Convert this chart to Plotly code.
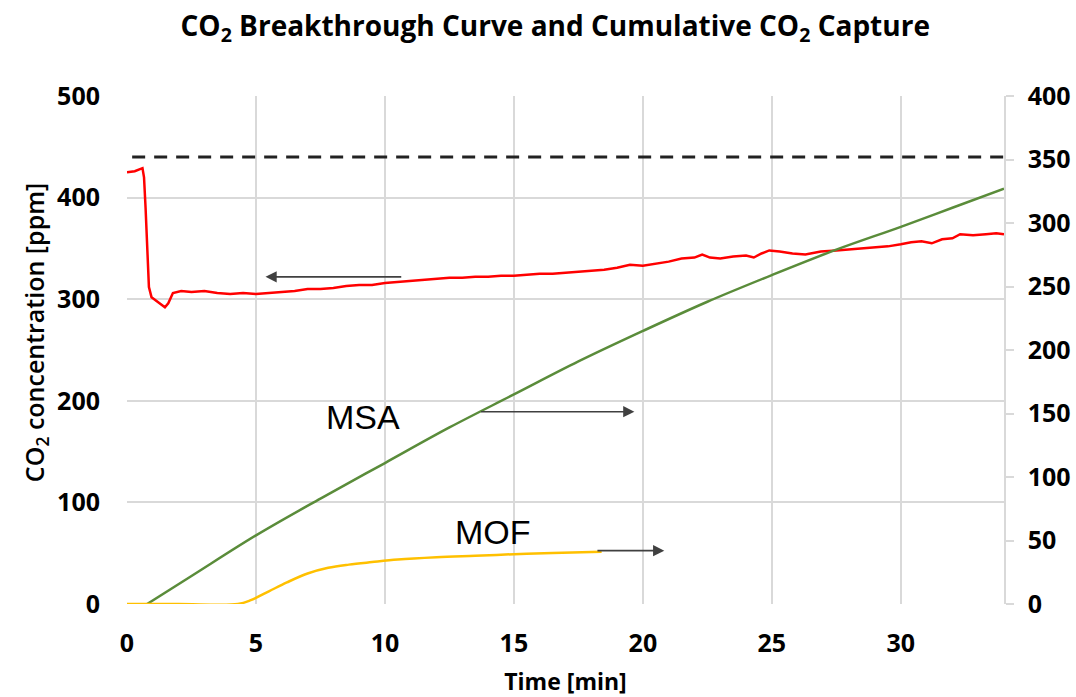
import plotly.graph_objects as go

# ---- data ----
red_time = [0, 0.3, 0.6, 0.66, 0.72, 0.78, 0.85, 0.95, 1.2, 1.47, 1.6, 1.78, 2.1, 2.5, 3.0, 3.5, 4.0, 4.5,
            5.0, 5.5, 6.0, 6.5, 7.0, 7.5, 8.0, 8.5, 9.0, 9.5, 10.0, 10.5, 11.0, 11.5, 12.0, 12.5,
            13.0, 13.5, 14.0, 14.5, 15.0, 15.5, 16.0, 16.5, 17.0, 17.5, 18.0, 18.5, 19.0, 19.5,
            20.0, 20.5, 21.0, 21.5, 22.0, 22.3, 22.6, 23.0, 23.5, 24.0, 24.3, 24.6, 24.9, 25.3,
            25.8, 26.3, 26.9, 27.5, 28.0, 28.5, 29.0, 29.5, 30.0, 30.4, 30.8, 31.2, 31.6, 32.0,
            32.3, 32.8, 33.3, 33.7, 34.0]
red_ppm = [425, 426, 429, 420, 390, 345, 312, 302, 297, 292, 296, 306, 308, 307, 308, 306, 305, 306,
           305, 306, 307, 308, 310, 310, 311, 313, 314, 314, 316, 317, 318, 319, 320, 321,
           321, 322, 322, 323, 323, 324, 325, 325, 326, 327, 328, 329, 331, 334,
           333, 335, 337, 340, 341, 344, 341, 340, 342, 343, 341, 345, 348, 347,
           345, 344, 347, 348, 349, 350, 351, 352, 354, 356, 357, 355, 359, 360,
           364, 363, 364, 365, 364]

msa_time = [0.78, 2.5, 5, 7.5, 10, 12.5, 15, 17.5, 20, 22.5, 25, 27.5, 30, 32, 34]
msa_capture = [0, 22, 54, 83, 111, 139, 165, 191, 215, 238, 259, 279, 297, 312, 327]

mof_time = [0, 2, 4.3, 4.8, 5.5, 6.2, 7.0, 7.8, 8.6, 9.5, 10.5, 12, 13.5, 15, 16.5, 18.4]
mof_capture = [0, 0, 0, 3, 10, 17, 24, 28.5, 31, 33, 35, 36.8, 38, 39.2, 40.2, 41.2]

ref_time = [0.2, 34]
ref_ppm = [440, 440]

x_ticks = [0, 5, 10, 15, 20, 25, 30]
left_ticks = [0, 100, 200, 300, 400, 500]
right_ticks = [0, 50, 100, 150, 200, 250, 300, 350, 400]

FONT = "Open Sans"
GRID = "#D9D9D9"

fig = go.Figure()
fig.add_trace(go.Scatter(x=ref_time, y=ref_ppm, mode="lines",
                         line=dict(color="#222222", width=3, dash="13px,9px"),
                         yaxis="y", showlegend=False, hoverinfo="skip"))
fig.add_trace(go.Scatter(x=red_time, y=red_ppm, mode="lines",
                         line=dict(color="#FF0000", width=2.5),
                         yaxis="y", showlegend=False))
fig.add_trace(go.Scatter(x=msa_time, y=msa_capture, mode="lines", line_shape="spline",
                         line=dict(color="#5A8C3A", width=2.5),
                         yaxis="y2", showlegend=False))
fig.add_trace(go.Scatter(x=mof_time, y=mof_capture, mode="lines", line_shape="spline",
                         line=dict(color="#FFC000", width=2.5),
                         yaxis="y2", showlegend=False))

arrow_common = dict(showarrow=True, arrowhead=2, arrowsize=1.4, arrowwidth=1.6,
                    arrowcolor="#404040", text="")
annotations = [
    dict(x=5.37, y=322, ax=10.69, ay=322, xref="x", yref="y", axref="x", ayref="y", **arrow_common),
    dict(x=19.67, y=151.4, ax=13.67, ay=151.4, xref="x", yref="y2", axref="x", ayref="y2", **arrow_common),
    dict(x=20.83, y=42, ax=18.18, ay=42, xref="x", yref="y2", axref="x", ayref="y2", **arrow_common),
    dict(x=9.15, y=184, xref="x", yref="y", text="MSA", showarrow=False,
         font=dict(family="Liberation Sans", size=34, color="#000000")),
    dict(x=14.2, y=71, xref="x", yref="y", text="MOF", showarrow=False,
         font=dict(family="Liberation Sans", size=34, color="#000000")),
    dict(x=-0.105, y=0.535, xref="paper", yref="paper", xanchor="center", yanchor="middle",
         text="CO<sub>2</sub> concentration [ppm]", textangle=-90, showarrow=False,
         font=dict(family=FONT, size=25, color="#000000", weight=600)),
]

fig.update_layout(
    width=1076, height=697,
    margin=dict(l=127, r=72, t=96, b=93, autoexpand=False),
    paper_bgcolor="white", plot_bgcolor="white",
    title=dict(text="CO<sub>2</sub> Breakthrough Curve and Cumulative CO<sub>2</sub> Capture",
               x=0.516, xanchor="center", y=0.962, yanchor="middle",
               font=dict(family=FONT, size=28, color="#000000", weight="bold")),
    xaxis=dict(range=[0, 34], tickvals=x_ticks, showgrid=True, gridcolor=GRID, gridwidth=1.5,
               zeroline=False, showline=False, ticks="", ticklabelstandoff=22,
               tickfont=dict(family=FONT, size=25, color="#000000", weight="bold"),
               title=dict(text="Time [min]", standoff=26,
                          font=dict(family=FONT, size=23, color="#000000", weight="bold"))),
    yaxis=dict(range=[0, 500], tickvals=left_ticks, showgrid=True, gridcolor=GRID, gridwidth=1.5,
               zeroline=False, showline=False, ticks="", ticklabelstandoff=26,
               tickfont=dict(family=FONT, size=25, color="#000000", weight="bold")),
    yaxis2=dict(range=[0, 400], tickvals=right_ticks, overlaying="y", side="right",
                showgrid=False, zeroline=False, showline=True, linecolor=GRID, linewidth=1.5,
                ticks="outside", ticklen=8, tickcolor=GRID, tickwidth=1.5, ticklabelstandoff=9,
                tickfont=dict(family=FONT, size=25, color="#000000", weight="bold")),
    annotations=annotations,
)

fig.write_html("out.html", config={"displayModeBar": False},
               post_script="document.body.style.margin='0';document.body.style.overflow='hidden';")
